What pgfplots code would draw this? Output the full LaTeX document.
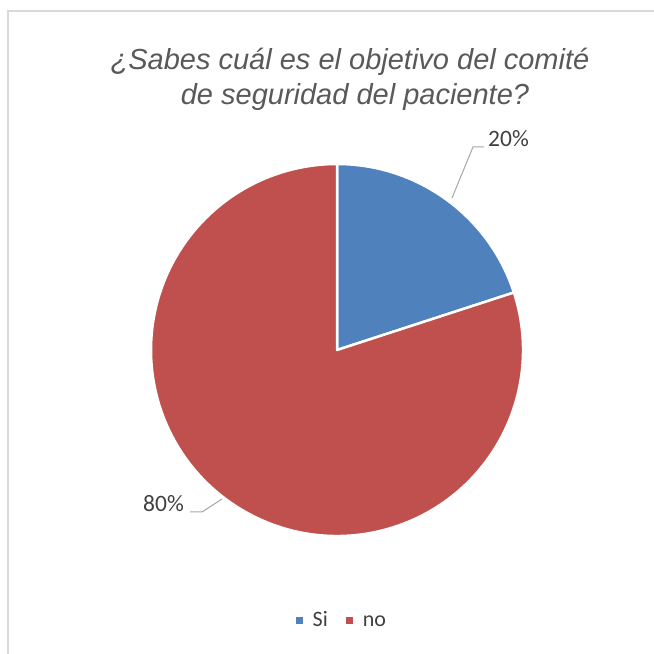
\documentclass[border=0pt]{standalone}
\usepackage{pgfplots}
\pgfplotsset{compat=1.18}
\usepackage{pgfplotstable}
\usepackage{fontspec}
\setmainfont{Carlito}
\newfontfamily\titlefont{Liberation Sans}
\definecolor{pieblue}{HTML}{4F81BD}
\definecolor{piered}{HTML}{C0504D}
\definecolor{titlegray}{HTML}{595959}
\definecolor{textgray}{HTML}{404040}
\definecolor{framegray}{HTML}{D9D9D9}
\definecolor{leadergray}{HTML}{A6A6A6}

% share of answers, in percent
\pgfplotstableread{
label value
Si    20
no    80
}\piedata

\begin{document}
\begin{tikzpicture}
\pgfplotstablegetelem{0}{value}\of\piedata \let\vSi\pgfplotsretval
\pgfplotstablegetelem{1}{value}\of\piedata \let\vNo\pgfplotsretval
\pgfmathsetmacro\aSi{90-3.6*\vSi}
\pgfmathsetmacro\aNo{\aSi-3.6*\vNo}
\path[use as bounding box] (0,0) rectangle (654pt,654pt);
\draw[framegray, line width=1.5pt] (8pt,0pt) -- (8pt,643pt) -- (654pt,643pt);

\node[font=\titlefont\itshape\fontsize{29}{35}\selectfont, text=titlegray, anchor=base, inner sep=0pt]
  at (350pt,584pt) {¿Sabes cuál es el objetivo del comité};
\node[font=\titlefont\itshape\fontsize{29}{35}\selectfont, text=titlegray, anchor=base, inner sep=0pt]
  at (355pt,549pt) {de seguridad del paciente?};

\begin{axis}[
    at={(337pt,304pt)}, anchor=origin,
    hide axis, scale only axis,
    width=372pt, height=372pt,
    xmin=-1, xmax=1, ymin=-1, ymax=1,
    clip=false,
    legend columns=2,
    legend style={
        at={(0.513,-0.226)}, anchor=center,
        draw=none, fill=none, inner sep=0pt,
        font=\fontsize{22}{26}\selectfont, text=textgray,
        cells={anchor=base west},
        /tikz/every even column/.append style={column sep=16pt},
    },
]
\filldraw[fill=pieblue, draw=white, line width=2.5pt, line join=round]
  (axis cs:0,0) -- ++(90:186pt) arc[start angle=90, end angle=\aSi, radius=186pt] -- cycle;
\filldraw[fill=piered, draw=white, line width=2.5pt, line join=round]
  (axis cs:0,0) -- ++(\aSi:186pt) arc[start angle=\aSi, end angle=\aNo, radius=186pt] -- cycle;
\addlegendimage{legend image code/.code={\fill[pieblue, draw=none] (0pt,3pt) rectangle (7pt,10pt); \path[draw=none, fill=none] (0pt,3pt) rectangle (15pt,10pt);}}
\addlegendentry{Si}
\addlegendimage{legend image code/.code={\fill[piered, draw=none] (0pt,3pt) rectangle (7pt,10pt); \path[draw=none, fill=none] (0pt,3pt) rectangle (15pt,10pt);}}
\addlegendentry{no}
\end{axis}

\draw[leadergray, line width=1pt] (452pt,456pt) -- (473pt,507pt) -- (484pt,507pt);
\node[font=\fontsize{23.5}{27}\selectfont, text=textgray, anchor=base west, inner sep=0pt]
  at (488pt,507pt) {\vSi\%};
\draw[leadergray, line width=1pt] (190pt,142pt) -- (202pt,142pt) -- (222pt,155pt);
\node[font=\fontsize{23.5}{27}\selectfont, text=textgray, anchor=base west, inner sep=0pt]
  at (143pt,142pt) {\vNo\%};
\end{tikzpicture}
\end{document}
